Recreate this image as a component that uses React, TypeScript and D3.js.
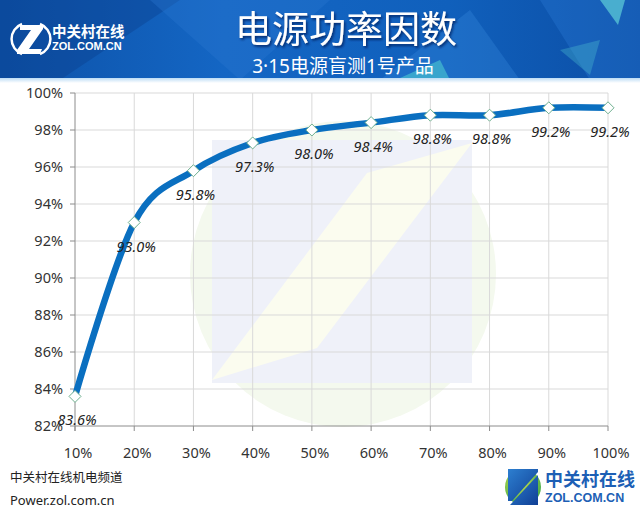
import React from 'react';
import * as d3 from 'd3';

const loads = ['10%', '20%', '30%', '40%', '50%', '60%', '70%', '80%', '90%', '100%'];
const pf = [83.6, 93.0, 95.8, 97.3, 98.0, 98.4, 98.8, 98.8, 99.2, 99.2];
const yTicks = [82, 84, 86, 88, 90, 92, 94, 96, 98, 100];
const title = '电源功率因数';
const subtitle = '3·15电源盲测1号产品';
const footer1 = '中关村在线机电频道';
const footer2 = 'Power.zol.com.cn';
const brandCn = '中关村在线';
const brandEn = 'ZOL.COM.CN';

const W = 640, H = 513;
const CJK = '"Noto Sans CJK SC", "Microsoft YaHei", sans-serif';
const LAT = '"Noto Sans", "Noto Sans CJK SC", sans-serif';

export default function App() {
  const x = d3.scalePoint<string>().domain(loads).range([75, 608]);
  const y = d3.scaleLinear().domain([82, 100]).range([426, 93]);
  const line = d3
    .line<number>()
    .x((_, i) => x(loads[i]) as number)
    .y((d) => y(d))
    .curve(d3.curveCardinal.tension(0));
  const xl = 75, xr = 608;

  return (
    <svg width={W} height={H} style={{ position: 'absolute', left: 0, top: 0, background: '#fff' }}
      fontFamily={CJK}>
      <defs>
        <linearGradient id="ban" x1="0" y1="0" x2="1" y2="0">
          <stop offset="0" stopColor="#0d52a8" />
          <stop offset="0.35" stopColor="#1466c4" />
          <stop offset="0.7" stopColor="#1060bc" />
          <stop offset="1" stopColor="#0c4ea5" />
        </linearGradient>
        <linearGradient id="strip" x1="0" y1="0" x2="0" y2="1">
          <stop offset="0" stopColor="#bcdcf5" />
          <stop offset="1" stopColor="#ffffff" />
        </linearGradient>
        <radialGradient id="gcirc" cx="0.4" cy="0.35" r="0.7">
          <stop offset="0" stopColor="#d8e84a" />
          <stop offset="1" stopColor="#3fa84a" />
        </radialGradient>
        <linearGradient id="bz" x1="0" y1="0" x2="1" y2="1">
          <stop offset="0" stopColor="#2d7fd0" />
          <stop offset="1" stopColor="#103f95" />
        </linearGradient>
        <filter id="sh" x="-10%" y="-10%" width="120%" height="140%">
          <feDropShadow dx="1.5" dy="2" stdDeviation="1.2" floodColor="#002060" floodOpacity="0.8" />
        </filter>
      </defs>

      {/* banner */}
      <rect x={0} y={0} width={W} height={80} fill="url(#ban)" />
      <polygon points="0,0 180,0 60,80 0,80" fill="#0a3f8c" opacity={0.4} />
      <polygon points="150,0 330,0 240,80" fill="#2a78d0" opacity={0.35} />
      <polygon points="380,80 470,10 520,80" fill="#3a8fe0" opacity={0.3} />
      <polygon points="400,78 440,60 450,80" fill="#4cc9d0" opacity={0.6} />
      <polygon points="540,0 640,0 640,80 590,80" fill="#2a7bd6" opacity={0.35} />
      <polygon points="600,0 625,0 618,25" fill="#5fd0d8" opacity={0.7} />
      <polygon points="560,50 600,40 590,75" fill="#4cc0d0" opacity={0.35} />
      <rect x={0} y={78} width={W} height={5} fill="url(#strip)" />

      {/* top-left logo */}
      <g>
        <path d="M22,24 A16,16 0 0 0 22,54" fill="none" stroke="#fff" strokeWidth={2.5} />
        <path d="M40,24 A16,16 0 0 1 40,54" fill="none" stroke="#fff" strokeWidth={2.5} />
        <polygon points="20,25 43,25 43,29 29,49 42,49 40,54 17,54 17,50 31,30 20,30" fill="#fff" />
        <text x={52} y={37} fill="#fff" fontSize={14.5} fontWeight={700}>{brandCn}</text>
        <text x={52} y={50} fill="#fff" fontSize={11} fontWeight={700}
          fontFamily='"Liberation Sans", Arial, sans-serif'>{brandEn}</text>
      </g>

      <text x={346} y={43} textAnchor="middle" fill="#fff" fontSize={37} filter="url(#sh)">{title}</text>
      <text x={343} y={73} textAnchor="middle" fill="#fff" fontSize={19} fontFamily={LAT}>{subtitle}</text>

      {/* watermark */}
      <g>
        <circle cx={343} cy={274} r={153} fill="#f4f9ee" />
        <rect x={212} y={140} width={260} height={243} fill="#eff1f9" />
        <polygon points="212,380 367,173 472,143 317,348" fill="#fbfcef" />
      </g>

      {/* grid */}
      <g stroke="#d9d9d9" strokeWidth={1}>
        {yTicks.filter((t) => t > 82).map((t) => (
          <line key={'h' + t} x1={xl} x2={xr} y1={y(t)} y2={y(t)} />
        ))}
        {loads.slice(1).map((l) => (
          <line key={'v' + l} x1={x(l)} x2={x(l)} y1={y(100)} y2={y(82)} />
        ))}
      </g>

      {/* axes */}
      <g stroke="#8c8c8c" strokeWidth={1}>
        <line x1={xl} x2={xl} y1={y(100)} y2={y(82) + 5} />
        <line x1={xl} x2={xr} y1={y(82)} y2={y(82)} />
        {yTicks.map((t) => (
          <line key={'yt' + t} x1={xl - 5} x2={xl} y1={y(t)} y2={y(t)} />
        ))}
        {loads.map((l) => (
          <line key={'xt' + l} x1={x(l)} x2={x(l)} y1={y(82)} y2={y(82) + 5} />
        ))}
      </g>
      <g fill="#333" fontSize={14.5} fontFamily='"Noto Sans", "Open Sans", sans-serif'>
        {yTicks.map((t) => (
          <text key={'yl' + t} x={63} y={y(t) + 5} textAnchor="end">{t + '%'}</text>
        ))}
        {loads.map((l) => (
          <text key={'xl' + l} x={(x(l) as number) + 3} y={458} textAnchor="middle">{l}</text>
        ))}
      </g>

      {/* series */}
      <path d={line(pf) || ''} fill="none" stroke="#0a6fc0" strokeWidth={6.5} strokeLinecap="round" />
      {pf.map((v, i) => {
        const cx = x(loads[i]) as number;
        const cy = y(v);
        const r = 6;
        return (
          <polygon key={'m' + i}
            points={`${cx},${cy - r} ${cx + r},${cy} ${cx},${cy + r} ${cx - r},${cy}`}
            fill="#fff" stroke="#6fb08f" strokeWidth={1} />
        );
      })}
      <g fill="#222" fontSize={14.5} fontStyle="italic" fontFamily='"Noto Sans", "Open Sans", sans-serif'>
        {pf.map((v, i) => (
          <text key={'dl' + i} x={(x(loads[i]) as number) + 2} y={y(v) + 29} textAnchor="middle">
            {v.toFixed(1) + '%'}
          </text>
        ))}
      </g>

      {/* footer */}
      <text x={10} y={482} fill="#222" fontSize={12.5}>{footer1}</text>
      <text x={10} y={505} fill="#222" fontSize={13} fontFamily='"Noto Sans", "Open Sans", sans-serif'>{footer2}</text>

      {/* bottom-right logo */}
      <g>
        <circle cx={523} cy={487} r={18} fill="url(#gcirc)" />
        <polygon points="508,469 538,469 538,472 512,501 508,501" fill="url(#bz)" />
        <polygon points="538,475 538,505 510,505" fill="url(#bz)" />
        <text x={545} y={486} fill="#1d5fb5" fontSize={18} fontWeight={700}>{brandCn}</text>
        <text x={545} y={502} fill="#1d5fb5" fontSize={12.5} fontWeight={700}
          fontFamily='"Liberation Sans", Arial, sans-serif'>{brandEn}</text>
      </g>
    </svg>
  );
}
